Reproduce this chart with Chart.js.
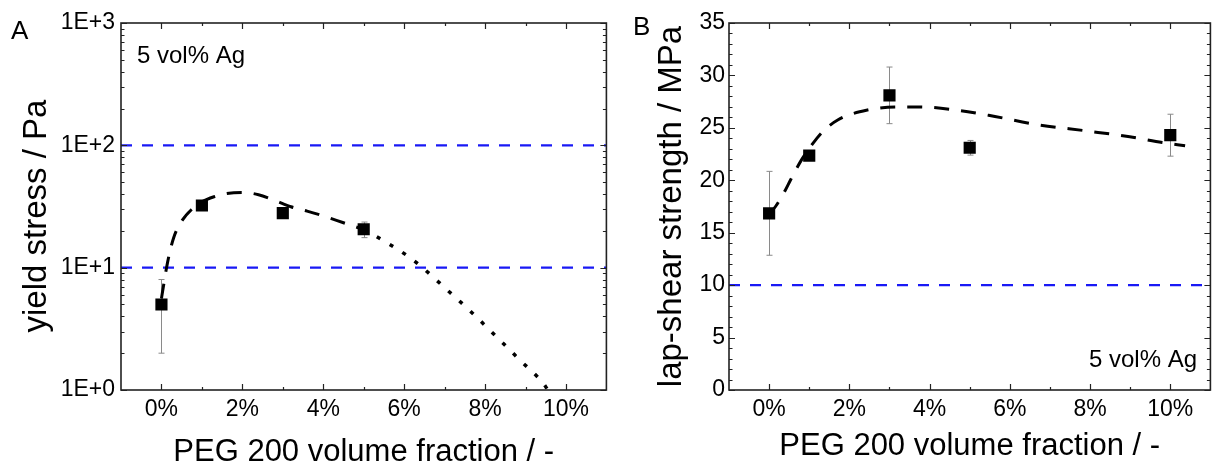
<!DOCTYPE html>
<html><head><meta charset="utf-8">
<script src="https://cdn.jsdelivr.net/npm/chart.js@4/dist/chart.umd.min.js"></script>
<style>
html,body{margin:0;padding:0;background:#fff;}
#wrap{position:relative;width:1219px;height:468px;background:#fff;}
canvas{position:absolute;top:0;}
</style></head><body>
<div id="wrap">
<canvas id="cA" width="615" height="468" style="left:0px"></canvas>
<canvas id="cB" width="604" height="468" style="left:615px"></canvas>
</div>
<script>
const FONT = "'Liberation Sans', Arial, sans-serif";

// ---------- shared ----------
const xTickLabelsPct = [0, 2, 4, 6, 8, 10];
const xMinorTicks = [0, 1, 2, 3, 4, 5, 6, 7, 8, 9, 10];

// ---------- Panel A : yield stress ----------
const pegA = [0, 1, 3, 5];
const yieldA = [5.0, 32.2, 27.9, 20.6];
const yieldErrA = [3.0, 1.0, 1.0, 3.0];
const fitDashXA = [0.0, 0.15, 0.3, 0.5, 0.75, 1.0, 1.3, 1.6, 2.0, 2.4, 2.8, 3.2, 3.6, 4.0, 4.5, 5.0];
const fitDashYA = [5.6, 11.0, 17.5, 24.0, 30.0, 34.5, 38.0, 40.3, 41.2, 39.5, 35.5, 31.5, 29.0, 26.5, 23.3, 20.5];
const fitDotXA = [5.0, 5.31, 6.05, 6.38, 6.99, 7.65, 8.26, 8.86, 9.46, 9.55];
const fitDotYA = [20.5, 18.0, 12.7, 10.5, 6.92, 4.37, 2.77, 1.76, 1.11, 1.0];
const refLevelsA = [10, 100];
const yTicksA = [1, 10, 100, 1000];
const yMinorA = [1,2,3,4,5,6,7,8,9,10,20,30,40,50,60,70,80,90,100,200,300,400,500,600,700,800,900,1000];

// ---------- Panel B : lap-shear strength ----------
const pegB = [0, 1, 3, 5, 10];
const lapB = [16.85, 22.35, 28.1, 23.1, 24.3];
const lapErrB = [4.0, 0.3, 2.7, 0.7, 2.0];
const fitXB = [0.0, 0.16, 0.41, 0.53, 0.8, 1.05, 1.3, 1.71, 2.45, 3.27, 3.72, 4.66, 5.47, 6.7, 7.93, 8.99, 9.8, 10.37];
const fitYB = [16.8, 17.5, 19.1, 20.0, 21.9, 23.3, 24.5, 25.75, 26.7, 27.0, 27.0, 26.7, 26.2, 25.3, 24.7, 24.15, 23.6, 23.3];
const refLevelsB = [10];
const yTicksB = [0, 5, 10, 15, 20, 25, 30, 35];
const yMinorB = [];
for (let i = 0; i <= 35; i++) yMinorB.push(i);

Chart.defaults.color = '#000';
Chart.defaults.font.family = FONT;

const pts = (xs, ys) => xs.map((x, i) => ({x, y: ys[i]}));

const errorBars = {
  id: 'errorBars',
  beforeDatasetsDraw(chart, args, opts) {
    const {ctx} = chart;
    const xs = chart.scales.x, ys = chart.scales.y;
    ctx.save();
    ctx.strokeStyle = '#8a8a8a';
    ctx.lineWidth = 1;
    opts.x.forEach((xv, i) => {
      const px = Math.round(xs.getPixelForValue(xv)) + 0.5;
      const top = ys.getPixelForValue(opts.y[i] + opts.err[i]);
      const bot = ys.getPixelForValue(opts.y[i] - opts.err[i]);
      ctx.beginPath();
      ctx.moveTo(px, top); ctx.lineTo(px, bot);
      ctx.moveTo(px - 3, top); ctx.lineTo(px + 3, top);
      ctx.moveTo(px - 3, bot); ctx.lineTo(px + 3, bot);
      ctx.stroke();
    });
    ctx.restore();
  }
};

const frameTicks = {
  id: 'frameTicks',
  afterDatasetsDraw(chart, args, opts) {
    const {ctx, chartArea: a} = chart;
    const xs = chart.scales.x, ys = chart.scales.y;
    ctx.save();
    ctx.strokeStyle = '#222';
    ctx.lineWidth = 1.2;
    ctx.beginPath();
    opts.xMinor.forEach(v => {
      const p = Math.round(xs.getPixelForValue(v)) + 0.5;
      const L = opts.xMajor.includes(v) ? 6 : 3;
      ctx.moveTo(p, a.bottom); ctx.lineTo(p, a.bottom - L);
      ctx.moveTo(p, a.top); ctx.lineTo(p, a.top + L);
    });
    opts.yMinor.forEach(v => {
      const p = Math.round(ys.getPixelForValue(v)) + 0.5;
      const L = opts.yMajor.includes(v) ? 6 : 3.5;
      ctx.moveTo(a.left, p); ctx.lineTo(a.left + L, p);
      ctx.moveTo(a.right, p); ctx.lineTo(a.right - L, p);
    });
    ctx.stroke();
    ctx.lineWidth = 1.6;
    ctx.strokeRect(a.left, a.top, a.right - a.left, a.bottom - a.top);
    ctx.restore();
  },
  afterDraw(chart, args, opts) {
    const {ctx} = chart;
    opts.texts.forEach(t => {
      ctx.save();
      ctx.fillStyle = '#000';
      ctx.font = t.size + 'px ' + FONT;
      ctx.textAlign = t.align || 'left';
      ctx.textBaseline = t.baseline || 'alphabetic';
      ctx.translate(t.x, t.y);
      if (t.rotate) ctx.rotate(t.rotate);
      ctx.fillText(t.text, 0, 0);
      ctx.restore();
    });
  }
};

function makeChart(el, cfg) {
  const refSets = cfg.refLevels.map(v => ({
    data: [{x: -1, y: v}, {x: 11, y: v}],
    borderColor: 'rgb(25,25,245)', borderWidth: 2.2, borderDash: [11, 10],
    pointRadius: 0, fill: false, order: 5
  }));
  const curveSets = cfg.curves.map(c => ({
    data: c.data, borderColor: '#000', borderWidth: c.width, borderDash: c.dash,
    pointRadius: 0, fill: false, cubicInterpolationMode: 'monotone', order: 3
  }));
  return new Chart(document.getElementById(el), {
    type: 'line',
    data: {
      datasets: [{
        data: pts(cfg.px, cfg.py), showLine: false,
        pointStyle: 'rect', pointRadius: 8.6, pointBackgroundColor: '#000',
        pointBorderWidth: 0, borderColor: '#000', order: 1
      }, ...curveSets, ...refSets]
    },
    options: {
      responsive: false, animation: false, devicePixelRatio: 1,
      layout: {padding: cfg.padding},
      plugins: {
        legend: {display: false}, tooltip: {enabled: false},
        errorBars: {x: cfg.px, y: cfg.py, err: cfg.err},
        frameTicks: {xMinor: xMinorTicks, xMajor: xTickLabelsPct, yMinor: cfg.yMinor, yMajor: cfg.yTicks, texts: cfg.texts}
      },
      scales: {
        x: {
          type: 'linear', min: -1, max: 11,
          afterBuildTicks: s => { s.ticks = xTickLabelsPct.map(v => ({value: v})); },
          afterFit: s => { s.height = 468 - cfg.bottomEdge; },
          grid: {display: false, drawTicks: false}, border: {display: false},
          ticks: {autoSkip: false, maxRotation: 0, padding: 6, font: {size: 23}, callback: v => v + '%'},
          title: {display: true, text: 'PEG 200 volume fraction / -', font: {size: 31, lineHeight: 1}, padding: {top: 0, bottom: cfg.xTitlePad}}
        },
        y: {
          type: cfg.yType, min: cfg.yMin, max: cfg.yMax,
          afterBuildTicks: s => { s.ticks = cfg.yTicks.map(v => ({value: v})); },
          afterFit: s => { s.width = cfg.yWidth; },
          grid: {display: false, drawTicks: false}, border: {display: false},
          ticks: {autoSkip: false, padding: cfg.yTickPad, font: {size: 23}, callback: cfg.yLabel},
          title: {display: cfg.yTitleOn, text: cfg.yTitle, font: {size: 33, lineHeight: 1}, padding: {top: cfg.yTitlePad, bottom: 0}}
        }
      }
    },
    plugins: [errorBars, frameTicks]
  });
}

makeChart('cA', {
  px: pegA, py: yieldA, err: yieldErrA,
  curves: [
    {data: pts(fitDashXA, fitDashYA), width: 3, dash: [15, 12]},
    {data: pts(fitDotXA, fitDotYA), width: 3.5, dash: [4, 11]}
  ],
  refLevels: refLevelsA,
  yType: 'logarithmic', yMin: 1, yMax: 1000, yTicks: yTicksA, yMinor: yMinorA,
  yLabel: v => '1E+' + Math.round(Math.log10(v)),
  yTitle: 'yield stress / Pa', yTitleOn: false, yWidth: 121, yTickPad: 6, yTitlePad: 20,
  padding: {left: 0, right: 5, top: 23, bottom: 0}, bottomEdge: 390, xTitlePad: 0,
  texts: [
    {text: 'A', x: 11, y: 38.5, size: 26},
    {text: '5 vol% Ag', x: 137, y: 63, size: 24},
    {text: 'yield stress / Pa', x: 36.5, y: 216, size: 33, align: 'center', baseline: 'middle', rotate: -Math.PI / 2}
  ]
});

makeChart('cB', {
  px: pegB, py: lapB, err: lapErrB,
  curves: [
    {data: pts(fitXB, fitYB), width: 3, dash: [15, 12]}
  ],
  refLevels: refLevelsB,
  yType: 'linear', yMin: 0, yMax: 35, yTicks: yTicksB, yMinor: yMinorB,
  yLabel: v => String(v),
  yTitle: 'lap-shear strength / MPa', yTitleOn: true, yWidth: 114, yTickPad: 4, yTitlePad: 40,
  padding: {left: 0, right: 2, top: 23, bottom: 0}, bottomEdge: 390, xTitlePad: 6.5,
  texts: [
    {text: 'B', x: 18, y: 35, size: 26},
    {text: '5 vol% Ag', x: 582, y: 366.7, size: 24, align: 'right'}
  ]
});
</script>
</body></html>
